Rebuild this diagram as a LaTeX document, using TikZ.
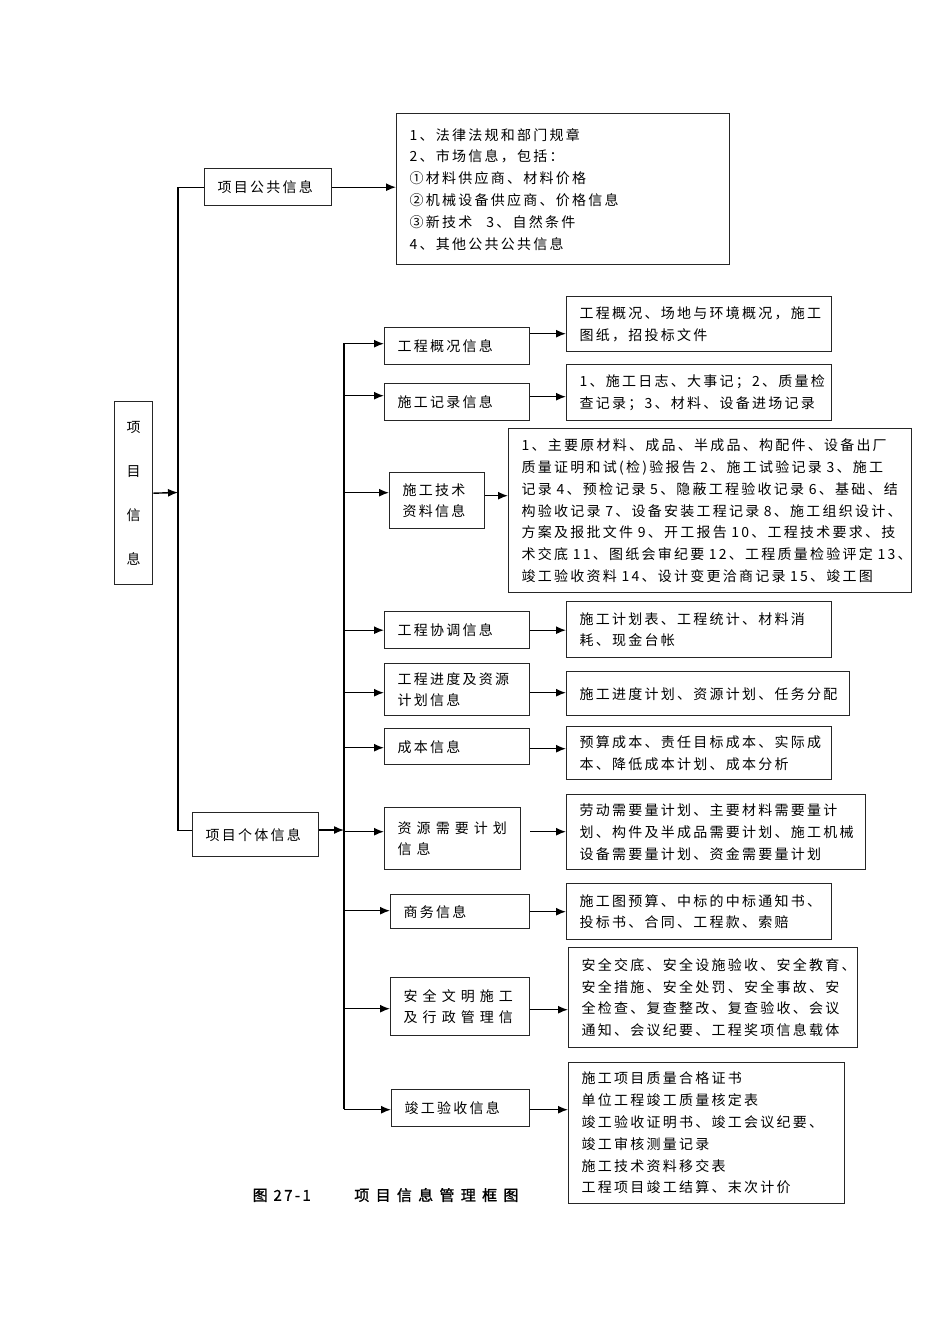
\documentclass[tikz,border=0pt]{standalone}
\usepackage{fontspec}
\setmainfont{Noto Sans CJK SC}[LetterSpace=16]
\newfontfamily\widecjk{Noto Sans CJK SC}[LetterSpace=36]
\newfontfamily\capfont{Noto Sans CJK SC}[LetterSpace=16,FakeBold=1.2]
\newfontfamily\capwide{Noto Sans CJK SC}[LetterSpace=42,FakeBold=1.2]
\usetikzlibrary{arrows.meta}
\begin{document}
\begin{tikzpicture}[>={Latex[length=10pt,width=8pt]},x=1pt,y=-1pt,line width=1.4pt,
  box/.style={draw=black!85,anchor=north west,align=left,inner xsep=13pt,inner ysep=0pt,
    font=\fontsize{14pt}{21.8pt}\selectfont}]
\useasboundingbox (0,0) rectangle (950,1344);
% left part
\node[box,align=center,inner xsep=0pt,minimum width=38pt,minimum height=183pt] (root) at (114,401) {项\\[22pt]目\\[22pt]信\\[22pt]息};
\node[box,text width=101pt,minimum height=37pt] (pub) at (204,168) {项目公共信息};
\node[box,text width=100pt,minimum height=44pt] (ind) at (192,812) {项目个体信息};
\node[box,text width=307pt,minimum height=151pt] (info) at (396,113) {1、法律法规和部门规章\\2、市场信息，包括：\\①材料供应商、材料价格\\②机械设备供应商、价格信息\\③新技术\hspace{1em}3、自然条件\\4、其他公共公共信息};
% second column
\node[box,text width=119pt,minimum height=37pt] (g1) at (384,327) {工程概况信息};
\node[box,text width=119pt,minimum height=37pt] (g2) at (384,383) {施工记录信息};
\node[box,text width=69pt,minimum height=56pt] (g3) at (389,472) {施工技术\\资料信息};
\node[box,text width=119pt,minimum height=37pt] (g4) at (384,611) {工程协调信息};
\node[box,text width=119pt,minimum height=52pt] (g5) at (384,663) {工程进度及资源\\计划信息};
\node[box,text width=119pt,minimum height=36pt] (g6) at (384,728) {成本信息};
\node[box,text width=110pt,minimum height=62pt] (g7) at (384,807) {\widecjk 资源需要计划\\信息};
\node[box,text width=113pt,minimum height=34pt] (g8) at (390,894) {商务信息};
\node[box,text width=113pt,minimum height=58pt] (g9) at (390,977) {\widecjk 安全文明施工\\及行政管理信};
\node[box,text width=112pt,minimum height=37pt] (g10) at (391,1089) {竣工验收信息};
% third column
\node[box,text width=239pt,minimum height=55pt] (d1) at (566,296) {工程概况、场地与环境概况，施工\\图纸，招投标文件};
\node[box,text width=239pt,minimum height=56pt] (d2) at (566,364) {1、施工日志、大事记；2、质量检\\查记录；3、材料、设备进场记录};
\node[box,text width=377pt,minimum height=164pt] (d3) at (508,428) {1、主要原材料、成品、半成品、构配件、设备出厂\\质量证明和试(检)验报告~2、施工试验记录~3、施工\\记录~4、预检记录~5、隐蔽工程验收记录~6、基础、结\\构验收记录~7、设备安装工程记录~8、施工组织设计、\\方案及报批文件~9、开工报告~10、工程技术要求、技\\术交底~11、图纸会审纪要~12、工程质量检验评定~13、\\竣工验收资料~14、设计变更洽商记录~15、竣工图};
\node[box,text width=239pt,minimum height=56pt] (d4) at (566,601) {施工计划表、工程统计、材料消\\耗、现金台帐};
\node[box,text width=257pt,minimum height=44pt] (d5) at (566,671) {施工进度计划、资源计划、任务分配};
\node[box,text width=239pt,minimum height=53pt] (d6) at (566,726) {预算成本、责任目标成本、实际成\\本、降低成本计划、成本分析};
\node[box,text width=273pt,minimum height=75pt] (d7) at (566,794) {劳动需要量计划、主要材料需要量计\\划、构件及半成品需要计划、施工机械\\设备需要量计划、资金需要量计划};
\node[box,text width=239pt,minimum height=56pt] (d8) at (566,883) {施工图预算、中标的中标通知书、\\投标书、合同、工程款、索赔};
\node[box,text width=263pt,minimum height=100pt] (d9) at (568,947) {安全交底、安全设施验收、安全教育、\\安全措施、安全处罚、安全事故、安\\全检查、复查整改、复查验收、会议\\通知、会议纪要、工程奖项信息载体};
\node[box,text width=250pt,minimum height=141pt] (d10) at (568,1062) {施工项目质量合格证书\\单位工程竣工质量核定表\\竣工验收证明书、竣工会议纪要、\\竣工审核测量记录\\施工技术资料移交表\\工程项目竣工结算、末次计价};
% caption
\node[anchor=west,inner sep=0pt,font=\fontsize{15pt}{18pt}\selectfont] (cap) at (252,1195) {\capfont 图 27-1\hspace{2.9em}{\capwide 项目信息管理框图}};
% connectors
\coordinate (lb) at (178,492.5);
\coordinate (rtop) at (344,343);
\coordinate (rb) at (344,830);
\coordinate (rbot) at (344,1109);
\draw (pub.west) -| (lb) |- ([yshift=4pt]ind.west);
\draw[->] (root.east) -- (lb);
\draw[->] (pub.east) -- (pub.east -| info.west);
\draw[->] (ind.east |- rb) -- (rb);
\draw (rtop) -- (rbot);
\foreach \n/\dy in {g1/2.5,g2/6.5,g3/8,g4/0,g5/-3,g6/-1,g7/7,g8/1,g9/-2,g10/-1.5}{
  \path ([yshift=\dy pt]\n.west) coordinate (t\n);
  \draw[->] (t\n -| rtop) -- (t\n);
}
\foreach \a/\b/\dy/\dx in {g1/d1/12.5/0,g2/d2/5.5/0,g3/d3/5/0,g4/d4/0/0,g5/d5/-3/0,g6/d6/-2/0,g7/d7/7/9,g8/d8/0/0,g9/d9/-3/0,g10/d10/-1.5/0}{
  \path ([xshift=\dx pt,yshift=\dy pt]\a.east) coordinate (s\a);
  \draw[->] (s\a) -- (s\a -| \b.west);
}
\end{tikzpicture}
\end{document}
